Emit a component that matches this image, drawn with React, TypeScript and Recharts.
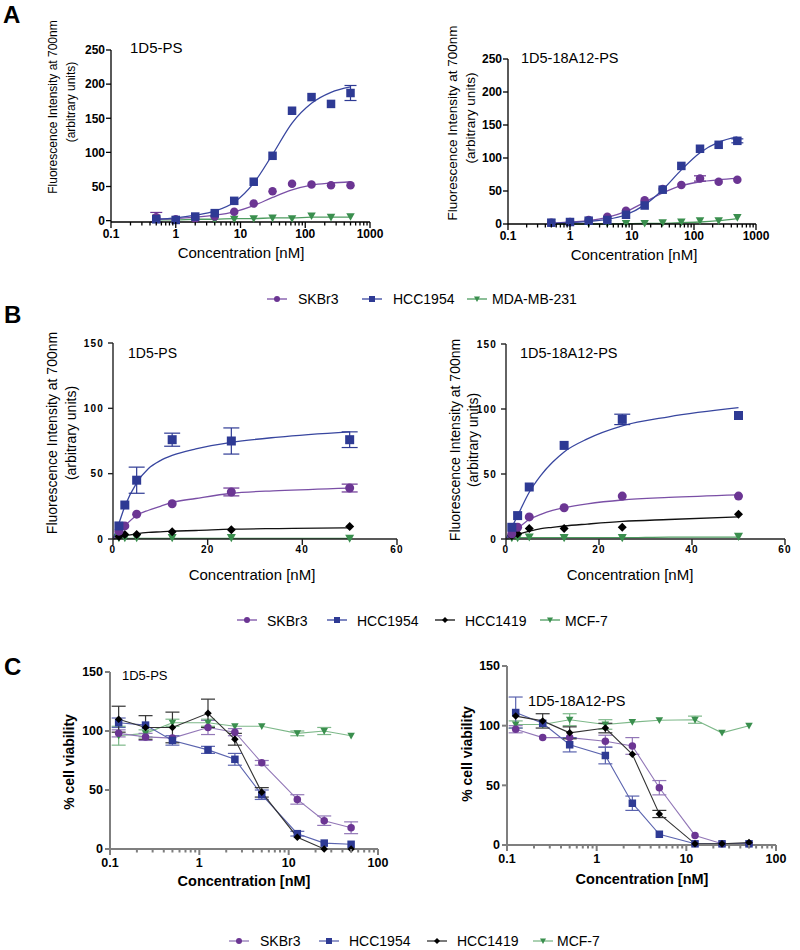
import React from 'react';
import { ComposedChart, Line, XAxis, YAxis, ErrorBar } from 'recharts';

const FONT = '"Liberation Sans", Arial, Helvetica, sans-serif';

// ---------- A: binding, log concentration ----------
const concA = [0.5, 1, 2, 4, 8, 16, 31.25, 62.5, 125, 250, 500];

const a1SKBr3 = [5, 2, 3, 6, 13, 25, 43, 54, 53, 52, 52];
const a1SKBr3Err = [7, 0, 0, 0, 0, 0, 0, 0, 0, 0, 0];
const a1HCC1954 = [2, 1, 6, 11, 29, 57, 95, 161, 181, 171, 187];
const a1HCC1954Err = [0, 0, 0, 0, 0, 0, 0, 0, 0, 0, 11];
const a1MDA = [4, 1, 1, 1, 2, 3, 4, 3, 7, 5, 6];
// fitted curves at the same concentrations
const a1FitSKBr3 = [2, 3, 5, 8, 13, 22, 34, 45, 52, 55, 57];
const a1FitHCC1954 = [2, 4, 8, 14, 27, 55, 97, 143, 172, 188, 196];
const a1FitMDA = [1, 1, 2, 2, 3, 3, 4, 4, 5, 5, 5];

const a2SKBr3 = [2, 3, 6, 11, 20, 36, 53, 59, 69, 64, 67];
const a2SKBr3Err = [0, 0, 0, 0, 0, 0, 0, 0, 4, 0, 0];
const a2HCC1954 = [2, 3, 5, 6, 14, 28, 52, 88, 114, 120, 126];
const a2HCC1954Err = [0, 0, 0, 0, 0, 0, 0, 0, 0, 0, 3];
const a2MDA = [2, 1, 1, 1, 1, 1, 2, 3, 5, 5, 10];
const a2FitSKBr3 = [1, 3, 5, 10, 19, 33, 47, 58, 64, 67, 69];
const a2FitHCC1954 = [1, 2, 4, 7, 14, 29, 52, 82, 108, 124, 132];
const a2FitMDA = [0, 0, 0, 0, 0.5, 1, 1, 2, 3, 5, 8];

// ---------- B: binding, linear concentration ----------
const concB = [1.25, 2.5, 5, 12.5, 25, 50];
const concBFit = [0, 1.25, 2.5, 5, 7.5, 10, 12.5, 17.5, 25, 35, 50];

const b1SKBr3 = [6, 10, 19, 27, 36, 39];
const b1SKBr3Err = [0, 0, 0, 0, 3, 3];
const b1HCC1954 = [10, 26, 45, 76, 75, 76];
const b1HCC1954Err = [0, 0, 10, 5, 10, 6];
const b1HCC1419 = [2, 3.5, 3.5, 5.5, 7, 9.5];
const b1MCF7 = [1, 1, 1, 1, 1, 0.5];
const b1FitSKBr3 = [0, 5, 10, 18, 22, 25, 28, 31, 35, 37, 39];
const b1FitHCC1954 = [0, 12, 25, 43, 54, 60, 64, 69, 74, 78, 82];
const b1FitHCC1419 = [0, 1.5, 2.5, 4, 5, 5.5, 6, 6.5, 7.5, 8, 8.5];
const b1FitMCF7 = [0, 0.5, 0.5, 0.5, 0.5, 0.5, 0.5, 0.5, 0.5, 0.5, 0.5];

const b2SKBr3 = [4, 9, 17, 24, 33, 33];
const b2HCC1954 = [9, 18, 40, 72, 92, 95];
const b2HCC1954Err = [0, 0, 0, 0, 4, 0];
const b2HCC1419 = [2.5, 4, 8, 8, 9, 19];
const b2MCF7 = [1, 1, 1.5, 1, 1, 2];
const b2FitSKBr3 = [0, 4, 8, 15, 19, 22, 24, 27, 30, 32, 34];
const b2FitHCC1954 = [0, 9, 18, 36, 49, 59, 67, 77, 87, 94, 101];
const b2FitHCC1419 = [0, 2, 3.5, 6, 8, 9, 10, 11.5, 13.5, 15, 17];
const b2FitMCF7 = [0, 0.5, 1, 1, 1, 1, 1, 1, 1, 1.5, 1.5];

// ---------- C: viability ----------
const concC = [0.125, 0.25, 0.5, 1.25, 2.5, 5, 12.5, 25, 50];

const c1SKBr3 = [98, 95, 94, 103, 99, 73, 42, 24, 18];
const c1SKBr3Err = [3, 3, 0, 6, 3, 2, 4, 4, 5];
const c1HCC1954 = [107, 105, 92, 84, 76, 46, 13, 5, 4];
const c1HCC1954Err = [4, 0, 4, 3, 5, 4, 2, 0, 0];
const c1HCC1419 = [110, 103, 103, 115, 93, 48, 10, 0, 0];
const c1HCC1419Err = [11, 10, 13, 12, 5, 4, 0, 0, 0];
const c1MCF7 = [96, 98, 107, 107, 104, 104, 98, 100, 96];
const c1MCF7Err = [8, 3, 3, 3, 0, 0, 2, 3, 0];

const c2SKBr3 = [97, 90, 90, 87, 83, 48, 8, 1, 1];
const c2SKBr3Err = [3, 0, 0, 5, 7, 6, 0, 0, 0];
const c2HCC1954 = [111, 102, 84, 75, 35, 9, 1, 1, 1];
const c2HCC1954Err = [13, 0, 6, 7, 6, 0, 0, 0, 0];
const c2HCC1419 = [108, 104, 94, 98, 76, 26, 1, 1, 2];
const c2HCC1419Err = [0, 6, 5, 4, 0, 3, 0, 0, 0];
const c2MCF7 = [101, 101, 105, 101, 103, 104.5, 105, 94, 100];
const c2MCF7Err = [3, 0, 5, 4, 0, 0, 3, 0, 0];

// ticks
const logTicksA = [0.1, 1, 10, 100, 1000];
const logTicksC = [0.1, 1, 10, 100];
const yTicksA = [0, 50, 100, 150, 200, 250];
const yTicksB = [0, 50, 100, 150];
const xTicksB = [0, 20, 40, 60];
const yTicksC = [0, 50, 100, 150];

const legendA = ['SKBr3', 'HCC1954', 'MDA-MB-231'];
const legendBC = ['SKBr3', 'HCC1954', 'HCC1419', 'MCF-7'];

type Shape = 'circle' | 'square' | 'diamond' | 'tri';
type Pt = { x: number; y: number; e: number };

const STYLE: Record<string, { shape: Shape; color: string; line: string; light: string }> = {
  SKBr3: { shape: 'circle', color: '#6B3593', line: '#7A4FA6', light: '#9277B7' },
  HCC1954: { shape: 'square', color: '#2E3A94', line: '#38469F', light: '#5A63AE' },
  HCC1419: { shape: 'diamond', color: '#000000', line: '#111111', light: '#333333' },
  'MDA-MB-231': { shape: 'tri', color: '#3A8F4E', line: '#4E9C60', light: '#7DB889' },
  'MCF-7': { shape: 'tri', color: '#3A8F4E', line: '#4E9C60', light: '#7DB889' },
};

const zip = (xs: number[], ys: number[], es?: number[]): Pt[] =>
  xs.map((x, i) => ({ x, y: ys[i], e: es ? es[i] : 0 }));

const withMinors = (majors: number[]) => {
  const out: number[] = [];
  majors.forEach((m, i) => {
    out.push(m);
    if (i < majors.length - 1) for (let k = 2; k <= 9; k++) out.push(m * k);
  });
  return out;
};

function Mark({ cx, cy, shape, fill, size }: any) {
  if (cx == null || cy == null) return null;
  const h = size / 2;
  if (shape === 'circle') return <circle cx={cx} cy={cy} r={h} fill={fill} />;
  if (shape === 'square') return <rect x={cx - h} y={cy - h} width={size} height={size} fill={fill} />;
  if (shape === 'diamond')
    return <polygon points={`${cx},${cy - h} ${cx + h},${cy} ${cx},${cy + h} ${cx - h},${cy}`} fill={fill} />;
  return <polygon points={`${cx - h},${cy - h * 0.8} ${cx + h},${cy - h * 0.8} ${cx},${cy + h}`} fill={fill} />;
}

type SeriesDef = { name: string; pts: Pt[]; fit?: Pt[]; connect?: boolean };

type PanelProps = {
  box: { left: number; top: number; width: number; height: number };
  log: boolean;
  xDomain: [number, number];
  xMajors: number[];
  yDomain: [number, number];
  yTicks: number[];
  axisColor: string;
  axisWidth: number;
  tickFont: number;
  spacing?: number;
  yTickSize: number;
  yTickMargin: number;
  xGap: number;
  markSize: number;
  capWidth: number;
  series: SeriesDef[];
};

const YW = 50;
const MT = 10;
const MR = 20;
const XH = 40;

function XTick(props: any) {
  const { x, y, payload, majors, fontSize, axisColor, axisWidth, gap, spacing } = props;
  const v = payload.value;
  const major = majors.includes(v);
  const ay = y - 8;
  return (
    <g>
      <line x1={x} x2={x} y1={ay} y2={ay + (major ? 6 : 3.5)} stroke={axisColor} strokeWidth={axisWidth} />
      {major && (
        <text
          x={x}
          y={ay + gap}
          dy="0.71em"
          textAnchor="middle"
          fontSize={fontSize}
          fontWeight="bold"
          fontFamily={FONT}
          letterSpacing={spacing || 0}
          fill="#000"
        >
          {String(v)}
        </text>
      )}
    </g>
  );
}

function Panel(p: PanelProps) {
  const W = YW + p.box.width + MR;
  const H = MT + p.box.height + XH;
  const ticks = p.log ? withMinors(p.xMajors) : p.xMajors;
  return (
    <div style={{ position: 'absolute', left: p.box.left - YW, top: p.box.top - MT }}>
      <ComposedChart width={W} height={H} margin={{ top: MT, right: MR, left: 0, bottom: 0 }}>
        <XAxis
          type="number"
          dataKey="x"
          scale={p.log ? 'log' : 'linear'}
          domain={p.xDomain}
          ticks={ticks}
          interval={0}
          height={XH}
          tickSize={6}
          tickMargin={2}
          tickLine={false}
          axisLine={{ stroke: p.axisColor, strokeWidth: p.axisWidth }}
          tick={(t: any) => (
            <XTick
              {...t}
              majors={p.xMajors}
              fontSize={p.tickFont}
              axisColor={p.axisColor}
              axisWidth={p.axisWidth}
              gap={p.xGap}
              spacing={p.spacing}
            />
          )}
        />
        <YAxis
          type="number"
          dataKey="y"
          domain={p.yDomain}
          ticks={p.yTicks}
          interval={0}
          width={YW}
          tickSize={p.yTickSize}
          tickMargin={p.yTickMargin}
          axisLine={{ stroke: p.axisColor, strokeWidth: p.axisWidth }}
          tickLine={{ stroke: p.axisColor, strokeWidth: p.axisWidth }}
          tick={{
            fontSize: p.tickFont,
            fontWeight: 700,
            fill: '#000',
            fontFamily: FONT,
            letterSpacing: p.spacing || 0,
          }}
        />
        {p.series
          .filter((s) => s.fit)
          .map((s) => (
            <Line
              key={`${s.name}-fit`}
              data={s.fit}
              dataKey="y"
              type="monotone"
              stroke={STYLE[s.name].line}
              strokeWidth={1.3}
              dot={false}
              activeDot={false}
              isAnimationActive={false}
            />
          ))}
        {p.series.map((s) => (
          <Line
            key={`${s.name}-pts`}
            data={s.pts}
            dataKey="y"
            type="linear"
            stroke={s.connect ? STYLE[s.name].light : 'none'}
            strokeWidth={1.1}
            activeDot={false}
            isAnimationActive={false}
            dot={(d: any) => (
              <Mark
                key={`${s.name}-${d.index}`}
                cx={d.cx}
                cy={d.cy}
                shape={STYLE[s.name].shape}
                fill={STYLE[s.name].color}
                size={p.markSize}
              />
            )}
          >
            <ErrorBar
              dataKey="e"
              direction="y"
              width={p.capWidth}
              stroke={s.connect ? STYLE[s.name].light : STYLE[s.name].color}
              strokeWidth={1.2}
            />
          </Line>
        ))}
      </ComposedChart>
    </div>
  );
}

function YLabel({ x, y, size, bold, children }: any) {
  return (
    <text
      x={x}
      y={y}
      transform={`rotate(-90 ${x} ${y})`}
      textAnchor="middle"
      fontSize={size}
      fontWeight={bold ? 'bold' : 'normal'}
      fontFamily={FONT}
      fill="#000"
    >
      {children}
    </text>
  );
}

function Txt({ x, y, size, bold, anchor, children }: any) {
  return (
    <text
      x={x}
      y={y}
      fontSize={size}
      fontWeight={bold ? 'bold' : 'normal'}
      textAnchor={anchor || 'start'}
      fontFamily={FONT}
      fill="#000"
    >
      {children}
    </text>
  );
}

function LegendRow({ names, marks, texts, y, base, light }: any) {
  return (
    <g>
      {names.map((n: string, i: number) => {
        const st = STYLE[n];
        return (
          <g key={n}>
            <line x1={marks[i] - 10} x2={marks[i] + 10} y1={y} y2={y} stroke={light ? st.light : st.line} strokeWidth={1.3} />
            <Mark cx={marks[i]} cy={y} shape={st.shape} fill={st.color} size={6} />
            <Txt x={texts[i]} y={base} size={14}>
              {n}
            </Txt>
          </g>
        );
      })}
    </g>
  );
}

export default function App() {
  const commonA = {
    log: true,
    xDomain: [0.1, 1000] as [number, number],
    xMajors: logTicksA,
    yDomain: [0, 250] as [number, number],
    yTicks: yTicksA,
    axisColor: '#000',
    axisWidth: 1.3,
    tickFont: 12,
    yTickSize: 5,
    yTickMargin: 1,
    xGap: 7,
    markSize: 8.5,
    capWidth: 6,
  };
  const commonB = {
    log: false,
    xDomain: [0, 60] as [number, number],
    xMajors: xTicksB,
    yDomain: [0, 150] as [number, number],
    yTicks: yTicksB,
    axisColor: '#222',
    axisWidth: 1.4,
    tickFont: 10,
    spacing: 1.2,
    yTickSize: 5,
    yTickMargin: 4,
    xGap: 7,
    markSize: 9,
    capWidth: 8,
  };
  const commonC = {
    log: true,
    xDomain: [0.1, 100] as [number, number],
    xMajors: logTicksC,
    yDomain: [0, 150] as [number, number],
    yTicks: yTicksC,
    axisColor: '#7F7F7F',
    axisWidth: 2,
    tickFont: 12.5,
    yTickSize: 5,
    yTickMargin: 2,
    xGap: 9,
    markSize: 7.5,
    capWidth: 7,
  };

  return (
    <div style={{ position: 'absolute', left: 0, top: 0, width: 800, height: 950, background: '#fff' }}>
      <Panel
        {...commonA}
        box={{ left: 111, top: 50, width: 259, height: 172 }}
        series={[
          { name: 'MDA-MB-231', pts: zip(concA, a1MDA), fit: zip(concA, a1FitMDA) },
          { name: 'SKBr3', pts: zip(concA, a1SKBr3, a1SKBr3Err), fit: zip(concA, a1FitSKBr3) },
          { name: 'HCC1954', pts: zip(concA, a1HCC1954, a1HCC1954Err), fit: zip(concA, a1FitHCC1954) },
        ]}
      />
      <Panel
        {...commonA}
        box={{ left: 508, top: 59, width: 248, height: 165 }}
        series={[
          { name: 'MDA-MB-231', pts: zip(concA, a2MDA), fit: zip(concA, a2FitMDA) },
          { name: 'SKBr3', pts: zip(concA, a2SKBr3, a2SKBr3Err), fit: zip(concA, a2FitSKBr3) },
          { name: 'HCC1954', pts: zip(concA, a2HCC1954, a2HCC1954Err), fit: zip(concA, a2FitHCC1954) },
        ]}
      />
      <Panel
        {...commonB}
        box={{ left: 113, top: 343, width: 284, height: 196 }}
        series={[
          { name: 'MCF-7', pts: zip(concB, b1MCF7), fit: zip(concBFit, b1FitMCF7) },
          { name: 'HCC1419', pts: zip(concB, b1HCC1419), fit: zip(concBFit, b1FitHCC1419) },
          { name: 'SKBr3', pts: zip(concB, b1SKBr3, b1SKBr3Err), fit: zip(concBFit, b1FitSKBr3) },
          { name: 'HCC1954', pts: zip(concB, b1HCC1954, b1HCC1954Err), fit: zip(concBFit, b1FitHCC1954) },
        ]}
      />
      <Panel
        {...commonB}
        box={{ left: 506, top: 344, width: 279, height: 195 }}
        series={[
          { name: 'MCF-7', pts: zip(concB, b2MCF7), fit: zip(concBFit, b2FitMCF7) },
          { name: 'HCC1419', pts: zip(concB, b2HCC1419), fit: zip(concBFit, b2FitHCC1419) },
          { name: 'SKBr3', pts: zip(concB, b2SKBr3), fit: zip(concBFit, b2FitSKBr3) },
          { name: 'HCC1954', pts: zip(concB, b2HCC1954, b2HCC1954Err), fit: zip(concBFit, b2FitHCC1954) },
        ]}
      />
      <Panel
        {...commonC}
        box={{ left: 110, top: 672, width: 268, height: 177 }}
        series={[
          { name: 'MCF-7', pts: zip(concC, c1MCF7, c1MCF7Err), connect: true },
          { name: 'SKBr3', pts: zip(concC, c1SKBr3, c1SKBr3Err), connect: true },
          { name: 'HCC1954', pts: zip(concC, c1HCC1954, c1HCC1954Err), connect: true },
          { name: 'HCC1419', pts: zip(concC, c1HCC1419, c1HCC1419Err), connect: true },
        ]}
      />
      <Panel
        {...commonC}
        box={{ left: 507, top: 666, width: 269, height: 179 }}
        series={[
          { name: 'MCF-7', pts: zip(concC, c2MCF7, c2MCF7Err), connect: true },
          { name: 'SKBr3', pts: zip(concC, c2SKBr3, c2SKBr3Err), connect: true },
          { name: 'HCC1954', pts: zip(concC, c2HCC1954, c2HCC1954Err), connect: true },
          { name: 'HCC1419', pts: zip(concC, c2HCC1419, c2HCC1419Err), connect: true },
        ]}
      />

      <svg
        width={800}
        height={950}
        style={{ position: 'absolute', left: 0, top: 0, pointerEvents: 'none' }}
      >
        <Txt x={3} y={23} size={24} bold>A</Txt>
        <Txt x={4} y={323} size={24} bold>B</Txt>
        <Txt x={4} y={675} size={24} bold>C</Txt>

        <Txt x={130} y={53} size={15}>1D5-PS</Txt>
        <Txt x={521} y={63} size={14.5}>1D5-18A12-PS</Txt>
        <Txt x={128} y={358} size={14}>1D5-PS</Txt>
        <Txt x={520} y={358} size={14.5}>1D5-18A12-PS</Txt>
        <Txt x={122} y={680} size={13}>1D5-PS</Txt>
        <Txt x={528} y={706} size={14.5}>1D5-18A12-PS</Txt>

        <Txt x={241} y={258} size={15} anchor="middle">Concentration [nM]</Txt>
        <Txt x={634} y={260} size={15} anchor="middle">Concentration [nM]</Txt>
        <Txt x={252} y={580} size={15} anchor="middle">Concentration [nM]</Txt>
        <Txt x={630} y={580} size={15} anchor="middle">Concentration [nM]</Txt>
        <Txt x={244} y={886} size={14.5} bold anchor="middle">Concentration [nM]</Txt>
        <Txt x={642} y={884} size={14.5} bold anchor="middle">Concentration [nM]</Txt>

        <YLabel x={57} y={107} size={12}>Fluorescence Intensity at 700nm</YLabel>
        <YLabel x={75} y={102} size={12}>(arbitrary units)</YLabel>
        <YLabel x={457} y={123} size={13.5}>Fluorescence Intensity at 700nm</YLabel>
        <YLabel x={475} y={118} size={13.5}>(arbitrary units)</YLabel>
        <YLabel x={57} y={433} size={14}>Fluorescence Intensity at 700nm</YLabel>
        <YLabel x={76} y={433} size={14}>(arbitrary units)</YLabel>
        <YLabel x={460} y={440} size={14}>Fluorescence Intensity at 700nm</YLabel>
        <YLabel x={478} y={440} size={14}>(arbitrary units)</YLabel>
        <YLabel x={74} y={762} size={14} bold>% cell viability</YLabel>
        <YLabel x={472} y={754} size={14} bold>% cell viability</YLabel>

        <LegendRow names={legendA} marks={[277, 372, 477]} texts={[298, 393, 492]} y={299} base={304} />
        <LegendRow names={legendBC} marks={[247, 337, 445, 550]} texts={[267, 357, 465, 565]} y={620} base={626} />
        <LegendRow names={legendBC} marks={[239, 329, 437, 543]} texts={[260, 349, 457, 557]} y={941} base={946} light />
      </svg>
    </div>
  );
}
